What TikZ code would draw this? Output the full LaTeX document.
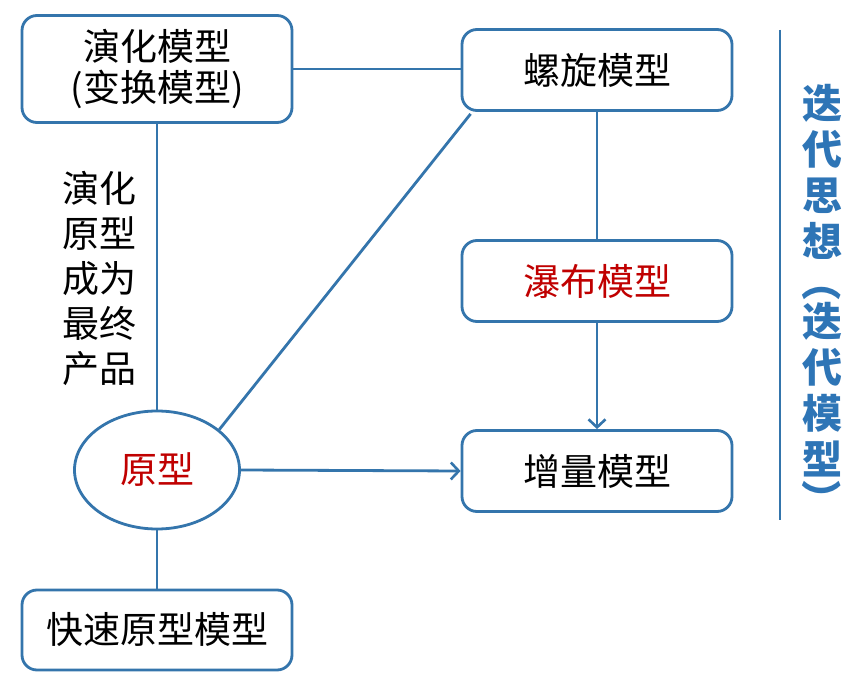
\documentclass[tikz,border=0pt]{standalone}
\usepackage{fontspec}
\setmainfont{Noto Sans CJK SC}
\usetikzlibrary{shapes.geometric,arrows.meta}
\definecolor{lineblue}{RGB}{52,117,172}
\definecolor{textblue}{RGB}{46,117,182}
\definecolor{darkred}{RGB}{192,0,0}
\begin{document}
\begin{tikzpicture}[x=1pt,y=-1pt,
  box/.style={draw=lineblue,line width=2.8pt,rounded corners=15pt,fill=white,
    minimum width=270pt,minimum height=81pt,inner sep=0pt,align=center,
    font=\fontsize{37}{41}\selectfont},
  link/.style={draw=lineblue,line width=2.8pt},
  arr/.style={link,-{Straight Barb[length=8pt,width=17pt,line width=2.6pt]}}]
\useasboundingbox[fill=white] (0,0) rectangle (865,692);
% nodes
\node[box,minimum height=107pt] (evol) at (157,69) {演化模型\\(变换模型)};
\node[box] (spiral) at (597,70) {螺旋模型};
\node[box] (water) at (597,281) {\textcolor{darkred}{瀑布模型}};
\node[box] (incr) at (597,471) {增量模型};
\node[box,minimum height=80pt] (rapid) at (157,630) {快速原型模型};
\node[ellipse,draw=lineblue,line width=2.8pt,fill=white,minimum width=165pt,
  minimum height=118pt,inner sep=0pt,font=\fontsize{37}{41}\selectfont] (orig) at (157,470)
  {\textcolor{darkred}{原型}};
\node[align=center,inner sep=0pt,font=\fontsize{37}{45}\selectfont] (note) at (99,278)
  {演化\\原型\\成为\\最终\\产品};
\node[align=center,inner sep=0pt,anchor=north,text=textblue,font=\fontsize{40}{46}\selectfont\bfseries] (iter) at (822,84)
  {迭\\代\\思\\想\\[-6pt]\rotatebox[origin=c]{-90}{（}\\[-6pt]迭\\代\\模\\型\\[-6pt]\rotatebox[origin=c]{-90}{）}};
\coordinate (vtop) at (780,30);
\coordinate (vbot) at (780,520);
% connectors
\draw[link] (evol.east) -- (evol.east -| spiral.west);
\draw[link] (evol.south) -- (orig.north);
\draw[link] (orig.33) -- ([xshift=10pt,yshift=-2pt]spiral.south west);
\draw[link] (spiral.south) -- (water.north);
\draw[arr] (water.south) -- (incr.north);
\draw[arr] (orig.east) -- (incr.west);
\draw[link] (orig.south) -- (rapid.north);
\draw[link,line width=2.4pt] (vtop) -- (vbot);
\end{tikzpicture}
\end{document}
